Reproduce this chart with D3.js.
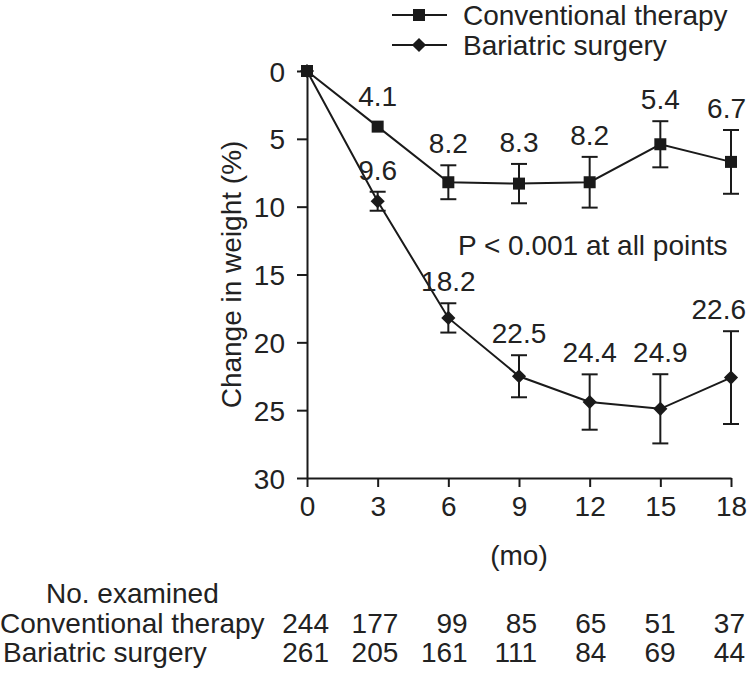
<!DOCTYPE html>
<html>
<head>
<meta charset="utf-8">
<script src="https://cdn.jsdelivr.net/npm/d3@7"></script>
<style>
  html, body { margin: 0; padding: 0; background: #fff; }
  svg text { font-family: "Liberation Sans", Arial, Helvetica, sans-serif; fill: #222; }
</style>
</head>
<body>
<svg id="chart" width="747" height="673"></svg>
<script>
// ---- data ----
const months = [0, 3, 6, 9, 12, 15, 18];
const conventionalMean = [0, 4.1, 8.2, 8.3, 8.2, 5.4, 6.7];
const conventionalErr  = [0, 0, 1.25, 1.45, 1.87, 1.7, 2.35];
const bariatricMean    = [0, 9.6, 18.2, 22.5, 24.4, 24.9, 22.6];
const bariatricErr     = [0, 0.7, 1.08, 1.55, 2.04, 2.55, 3.42];
const yTicks = [0, 5, 10, 15, 20, 25, 30];
const xTicks = [0, 3, 6, 9, 12, 15, 18];
const conventionalN = [244, 177, 99, 85, 65, 51, 37];
const bariatricN    = [261, 205, 161, 111, 84, 69, 44];
const seriesNames = ["Conventional therapy", "Bariatric surgery"];

// ---- layout ----
const W = 747, H = 673;
const FS = 28;
const svg = d3.select("#chart");
const x = d3.scaleLinear().domain([0, 18]).range([307, 731]);
const y = d3.scaleLinear().domain([0, 30]).range([71, 478]);
const ink = "#1a1a1a";

// axes
const yAxis = d3.axisLeft(y).tickValues(yTicks).tickSize(10).tickPadding(12).tickSizeOuter(0);
const gy = svg.append("g").attr("transform", `translate(${x(0)},0)`).call(yAxis);
const xAxis = d3.axisBottom(x).tickValues(xTicks).tickSize(9).tickPadding(9).tickSizeOuter(0);
const gx = svg.append("g").attr("transform", `translate(0,${y(30)})`).call(xAxis);
[gx, gy].forEach(g => {
  g.select(".domain").attr("stroke", ink).attr("stroke-width", 2);
  g.selectAll(".tick line").attr("stroke", ink).attr("stroke-width", 2);
  g.selectAll(".tick text").attr("font-size", FS).attr("fill", "#222")
    .attr("font-family", '"Liberation Sans", Arial, sans-serif');
});
gy.selectAll(".tick text").attr("dy", "0.36em");

// y-axis title
svg.append("text")
  .attr("transform", `translate(241,${y(15)}) rotate(-90)`)
  .attr("text-anchor", "middle")
  .attr("font-size", FS)
  .text("Change in weight (%)");

// x-axis title
svg.append("text")
  .attr("x", x(9)).attr("y", 565)
  .attr("text-anchor", "middle")
  .attr("font-size", FS)
  .text("(mo)");

// marker generators
const squareSym = d3.symbol().type(d3.symbolSquare).size(144);
const diamondSym = d3.symbol().type(d3.symbolSquare).size(100); // rotated 45° below
function markerTransform(shape, cx, cy) {
  return shape === "square" ? `translate(${cx},${cy})` : `translate(${cx},${cy}) rotate(45)`;
}

// ---- series ----
function drawSeries(means, errs, shape) {
  const pts = months.map((m, i) => ({ m, v: means[i], e: errs[i] }));
  const line = d3.line().x(d => x(d.m)).y(d => y(d.v));
  svg.append("path").datum(pts).attr("d", line)
    .attr("fill", "none").attr("stroke", ink).attr("stroke-width", 2);
  const eb = svg.append("g");
  pts.filter(d => d.e > 0).forEach(d => {
    eb.append("line").attr("x1", x(d.m)).attr("x2", x(d.m))
      .attr("y1", y(d.v - d.e)).attr("y2", y(d.v + d.e))
      .attr("stroke", ink).attr("stroke-width", 2);
    [d.v - d.e, d.v + d.e].forEach(val => {
      eb.append("line").attr("x1", x(d.m) - 8).attr("x2", x(d.m) + 8)
        .attr("y1", y(val)).attr("y2", y(val))
        .attr("stroke", ink).attr("stroke-width", 2);
    });
  });
  svg.append("g").selectAll("path").data(pts).join("path")
    .attr("d", shape === "square" ? squareSym : diamondSym)
    .attr("transform", d => markerTransform(shape, x(d.m), y(d.v)))
    .attr("fill", ink);
  // value labels
  const lg = svg.append("g");
  pts.filter(d => d.m > 0).forEach(d => {
    const by = Math.min(y(d.v - d.e) - 12, y(d.v) - 21);
    const t = lg.append("text").attr("x", x(d.m)).attr("y", by)
      .attr("text-anchor", "middle").attr("font-size", FS).text(d.v.toFixed(1));
    const half = t.node().getComputedTextLength() / 2;
    if (x(d.m) + half > W - 1) t.attr("x", W - 1 - half);
  });
}
drawSeries(conventionalMean, conventionalErr, "square");
drawSeries(bariatricMean, bariatricErr, "diamond");

// p-value annotation
svg.append("text").attr("x", 458).attr("y", 255).attr("font-size", FS)
  .text("P < 0.001 at all points");

// ---- legend ----
const legendY = [15, 45];
const legendShapes = ["square", "diamond"];
seriesNames.forEach((name, i) => {
  const g = svg.append("g");
  g.append("line").attr("x1", 392).attr("x2", 447).attr("y1", legendY[i]).attr("y2", legendY[i])
    .attr("stroke", ink).attr("stroke-width", 2);
  g.append("path").attr("d", legendShapes[i] === "square" ? squareSym : diamondSym)
    .attr("transform", markerTransform(legendShapes[i], 419, legendY[i])).attr("fill", ink);
  g.append("text").attr("x", 463).attr("y", legendY[i]).attr("dy", "0.36em")
    .attr("font-size", FS).text(name);
});

// ---- table of numbers examined ----
const tx = d3.scaleLinear().domain([0, 18]).range([329, 745]);
svg.append("text").attr("x", 46).attr("y", 603).attr("font-size", FS).text("No. examined");
const rows = [
  { name: seriesNames[0], vals: conventionalN, y: 633, x: 0 },
  { name: seriesNames[1], vals: bariatricN, y: 662, x: 3 }
];
rows.forEach(r => {
  svg.append("text").attr("x", r.x).attr("y", r.y).attr("font-size", FS).text(r.name);
  r.vals.forEach((v, i) => {
    svg.append("text").attr("x", tx(months[i])).attr("y", r.y)
      .attr("text-anchor", "end").attr("font-size", FS).text(v);
  });
});
</script>
</body>
</html>
